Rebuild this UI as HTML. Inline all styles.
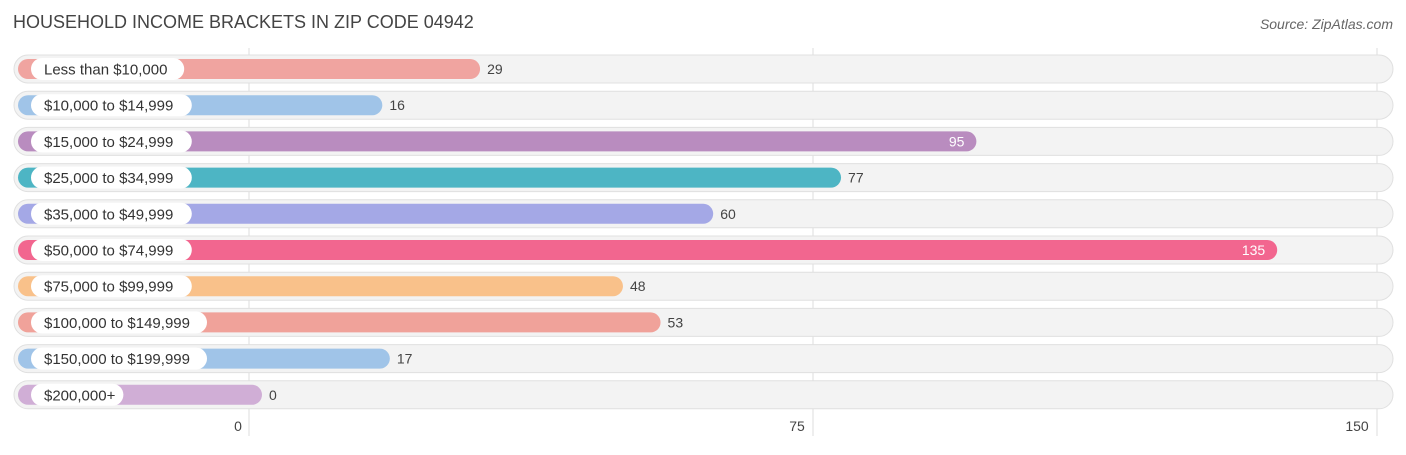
<!DOCTYPE html>
<html><head><meta charset="utf-8"><style>
body{margin:0;background:#fff;font-family:"Liberation Sans",sans-serif;}
svg text{font-family:"Liberation Sans",sans-serif;}
</style></head><body>
<svg width="1406" height="450" id="chart">
<text x="13" y="28" font-size="18" fill="#444">HOUSEHOLD INCOME BRACKETS IN ZIP CODE 04942</text>
<text x="1393" y="29" font-size="14" fill="#666" font-style="italic" text-anchor="end">Source: ZipAtlas.com</text>
</svg>
<script>
const categories=["Less than $10,000","$10,000 to $14,999","$15,000 to $24,999","$25,000 to $34,999","$35,000 to $49,999","$50,000 to $74,999","$75,000 to $99,999","$100,000 to $149,999","$150,000 to $199,999","$200,000+"];
const values=[29,16,95,77,60,135,48,53,17,0];
const colors=["#f0a4a0","#a0c4e8","#b98cbf","#4db5c4","#a4a8e6","#f2668f","#f9c18a","#f0a29a","#a0c4e8","#d0aed6"];
const ticks=[0,75,150];
const svg=document.getElementById('chart');
const NS='http://www.w3.org/2000/svg';
const x=v=>249+v*(1377-249)/150;
const rowY=i=>69+i*36.2;
function mk(t,a){const e=document.createElementNS(NS,t);for(const k in a)e.setAttribute(k,a[k]);svg.appendChild(e);return e;}
ticks.forEach(t=>{
  const l=mk('line',{x1:x(t),x2:x(t),y1:48,y2:436,stroke:'#ddd','stroke-width':1});
  
  
});
categories.forEach((c,i)=>{
  const y=rowY(i);
  const tr=mk('rect',{x:14,y:y-14,width:1379,height:28,rx:14,fill:'#f3f3f3',stroke:'#e0e0e0','stroke-width':1});
  
  
  const end=x(values[i])+13;
  const b=mk('rect',{x:18,y:y-10,width:end-18,height:20,rx:10,fill:colors[i]});
  
  
  const w=c.length*7.6+24;
  const p=mk('rect',{x:31,y:y-11,width:w,height:22,rx:11,fill:'#fff'});
  
  
  const t=mk('text',{x:44,y:y+5.5,'font-size':15,fill:'#333'});
  t.textContent=c;
  
  
  const inside=values[i]>=90;
  const v=mk('text',{x:inside?end-12:end+7,y:y+5,'font-size':14,fill:inside?'#fff':'#444','text-anchor':inside?'end':'start'});
  v.textContent=values[i];
  
  
});
const tickOff=[-11,-16,-20];
ticks.forEach((t,i)=>{
  const tl=mk('text',{x:x(t)+tickOff[i],y:431,'font-size':14,fill:'#444','text-anchor':'middle'});
  tl.textContent=t;
  
  
});
</script>
</body></html>
